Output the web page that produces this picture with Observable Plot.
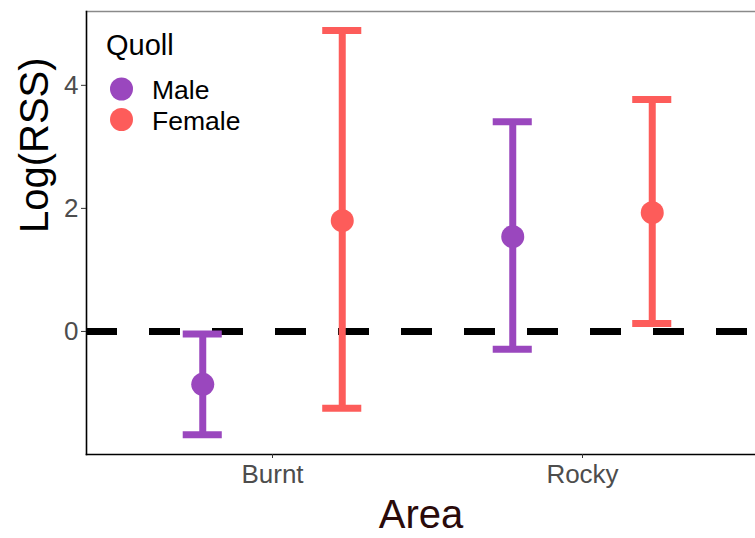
<!DOCTYPE html>
<html>
<head>
<meta charset="utf-8">
<script src="https://cdn.jsdelivr.net/npm/d3@7"></script>
<script src="https://cdn.jsdelivr.net/npm/@observablehq/plot@0.6"></script>
<style>
  body { margin: 0; background: #fff; }
  #wrap { position: relative; width: 755px; height: 538px; overflow: hidden; font-family: "Liberation Sans", Arial, sans-serif; }
  #legend { position: absolute; left: 0; top: 0; }
</style>
</head>
<body>
<div id="wrap"><div id="chart"></div><svg id="legend" width="300" height="150"></svg></div>
<script>
// Data
const areaNames = ["Burnt", "Rocky"];
const areas = ["Burnt", "Burnt", "Rocky", "Rocky"];
const sexes = ["Male", "Female", "Male", "Female"];
const estimate = [-0.86, 1.80, 1.54, 1.93];
const lower = [-1.68, -1.25, -0.29, 0.13];
const upper = [-0.04, 4.89, 3.41, 3.77];
const sexLevels = ["Male", "Female"];
const sexColors = ["#9a47be", "#fd5c5a"];
const yTicks = [0, 2, 4];

const dodge = {Male: -0.225, Female: 0.225};
const capHalf = 0.063;
const rows = areas.map((a, i) => {
  const x = areaNames.indexOf(a) + 1 + dodge[sexes[i]];
  return {area: a, sex: sexes[i], x, est: estimate[i], lo: lower[i], hi: upper[i], x1: x - capHalf, x2: x + capHalf};
});
const color = {domain: sexLevels, range: sexColors};

const chart = Plot.plot({
  width: 755,
  height: 538,
  marginLeft: 86,
  marginTop: 11,
  marginBottom: 84,
  marginRight: 0,
  style: {fontFamily: "Liberation Sans, Arial, sans-serif", background: "#fff", overflow: "hidden"},
  x: {domain: [0.4, 2.6], range: [86, 768]},
  y: {domain: [-2.0, 5.2]},
  color,
  marks: [
    Plot.frame({anchor: "top", stroke: "#8a8a8a", strokeWidth: 1.5}),
    Plot.ruleY([0], {stroke: "#000", strokeWidth: 7, strokeDasharray: "31,32"}),
    Plot.frame({anchor: "left", stroke: "#000", strokeWidth: 1.6}),
    Plot.frame({anchor: "bottom", stroke: "#000", strokeWidth: 1.6}),
    Plot.axisY({ticks: yTicks, tickSize: 5, tickPadding: 3, fontSize: 26, color: "#4d4d4d", stroke: "#333", label: null}),
    Plot.axisX({ticks: [1, 2], tickFormat: d => areaNames[d - 1], tickSize: 4, tickPadding: 6, fontSize: 26, color: "#4d4d4d", stroke: "#333", label: null}),
    Plot.ruleX(rows, {x: "x", y1: "lo", y2: "hi", stroke: "sex", strokeWidth: 7}),
    Plot.ruleY(rows, {y: "hi", x1: "x1", x2: "x2", stroke: "sex", strokeWidth: 7}),
    Plot.ruleY(rows, {y: "lo", x1: "x1", x2: "x2", stroke: "sex", strokeWidth: 7}),
    Plot.dot(rows, {x: "x", y: "est", fill: "sex", r: 11.5, stroke: "none"}),
    Plot.text(["Log(RSS)"], {frameAnchor: "left", rotate: -90, dx: -51, fontSize: 40, fill: "#000"}),
    Plot.text(["Area"], {frameAnchor: "bottom", dy: 73, fontSize: 40, fill: "#2a0a0a"})
  ]
});
document.getElementById("chart").appendChild(chart);

// Legend
const lg = d3.select("#legend");
lg.append("text").attr("x", 106).attr("y", 55).attr("font-size", 29).attr("fill", "#000")
  .attr("font-family", "Liberation Sans, Arial, sans-serif").text("Quoll");
sexLevels.forEach((s, i) => {
  const cy = 89 + i * 30.5;
  lg.append("circle").attr("cx", 121.5).attr("cy", cy).attr("r", 11.5).attr("fill", sexColors[i]);
  lg.append("text").attr("x", 152).attr("y", cy + 10).attr("font-size", 26.5).attr("fill", "#000")
    .attr("font-family", "Liberation Sans, Arial, sans-serif").text(s);
});
</script>
</body>
</html>
